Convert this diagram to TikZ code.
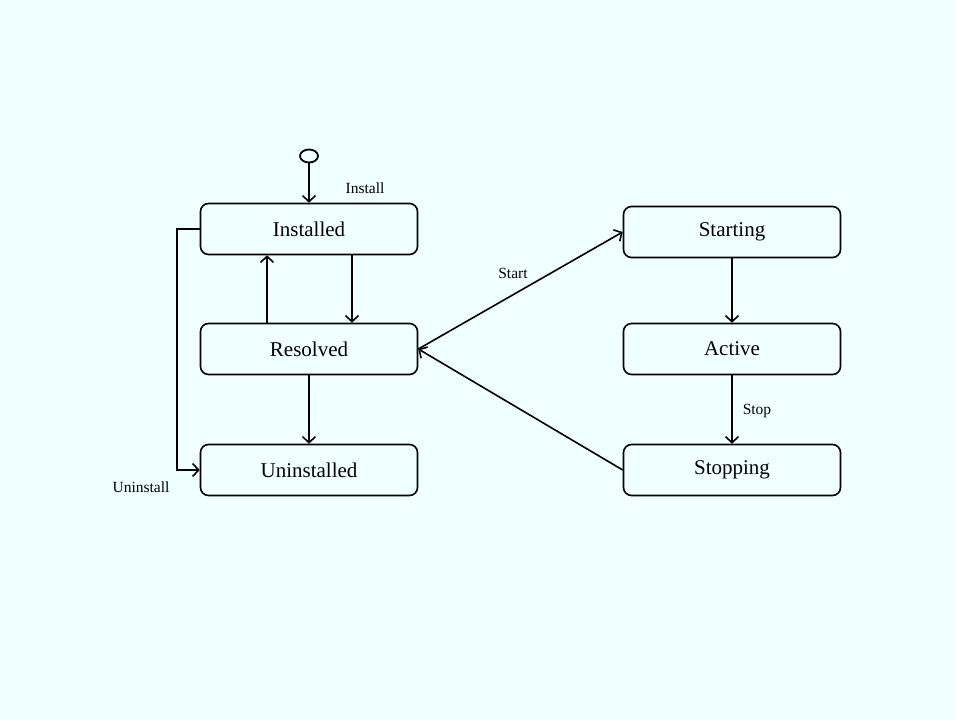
\documentclass[tikz,border=0pt]{standalone}
\usepackage{fontspec}
\setmainfont{Liberation Serif}
\usetikzlibrary{arrows.meta,shapes.geometric}
\definecolor{bgazure}{RGB}{240,255,255}
\tikzset{state/.style={draw, rounded corners=8pt, line width=1.6pt,
    minimum width=217pt, minimum height=51pt,
    font=\fontsize{21}{25}\selectfont},
  lbl/.style={font=\fontsize{15.5}{18}\selectfont},
  edge/.style={-{Straight Barb[length=6pt,width=13pt,line width=1.6pt]}, line width=1.6pt}}

\begin{document}
\begin{tikzpicture}[x=1pt,y=-1pt]
  \fill[bgazure] (0,0) rectangle (955,720);
  \node[ellipse, draw, line width=1.8pt, minimum width=18pt, minimum height=13pt, inner sep=0pt] (init) at (309,156) {};
  \node[state] (inst) at (309,229) {Installed};
  \node[state] (res) at (309,349) {Resolved};
  \node[state] (uninst) at (309,470) {Uninstalled};
  \node[state] (start) at (732,232) {Starting};
  \node[state] (act) at (732,349) {Active};
  \node[state] (stop) at (732,470) {Stopping};
  \node[lbl] (linst) at (365,188) {Install};
  \node[lbl] (luninst) at (141,487) {Uninstall};
  \node[lbl] (lstart) at (513,273) {Start};
  \node[lbl] (lstop) at (757,411) {Stop};
  \draw [edge] (init) -- (inst);
  \draw [edge] ([xshift=43pt]inst.south) -- ([xshift=43pt]res.north);
  \draw [edge] ([xshift=-42pt]res.north) -- ([xshift=-42pt]inst.south);
  \draw [edge] (res) -- (uninst);
  \draw [edge] (inst.west) -- ++(-23,0) |- (uninst.west);
  \draw [edge] (res.east) -- (start.west);
  \draw [edge] (start) -- (act);
  \draw [edge] (act) -- (stop);
  \draw [edge] (stop.west) -- (res.east);
\end{tikzpicture}
\end{document}
